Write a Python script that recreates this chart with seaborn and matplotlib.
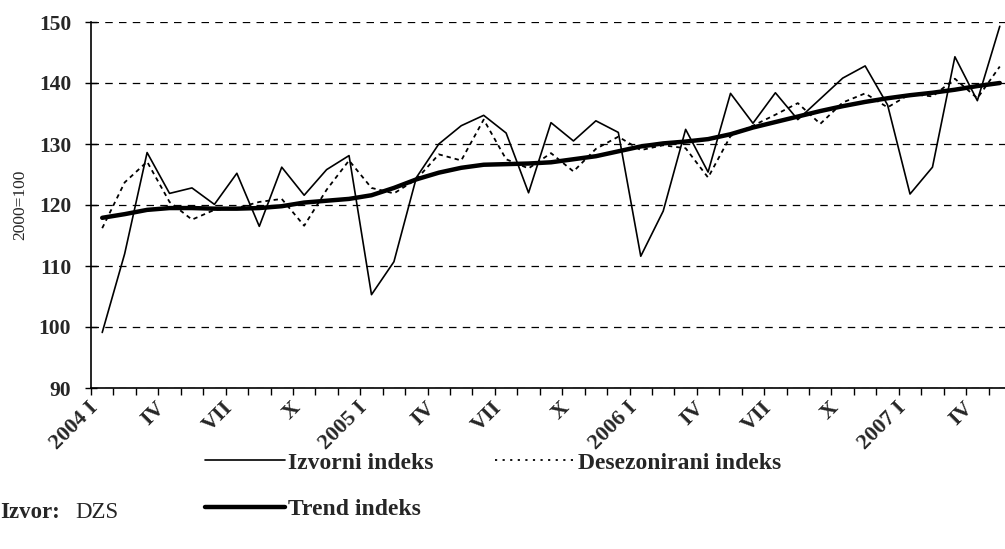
import numpy as np
import pandas as pd
import matplotlib
matplotlib.use("Agg")
import matplotlib.pyplot as plt
import matplotlib.transforms as mtransforms
from matplotlib.lines import Line2D
import seaborn as sns

# ---- data ----
years = [2004, 2005, 2006, 2007]
roman = ["I", "II", "III", "IV", "V", "VI", "VII", "VIII", "IX", "X", "XI", "XII"]
periods = [f"{y} {r}" if r == "I" else r for y in years for r in roman][:41]

izvorni = [99.1, 112.0, 128.6, 121.9, 122.8, 120.1, 125.2, 116.5, 126.2, 121.6,
           125.8, 128.1, 105.3, 110.7, 124.5, 130.0, 133.0, 134.7, 131.8, 122.0,
           133.5, 130.5, 133.8, 131.9, 111.6, 119.0, 132.4, 125.4, 138.3, 133.4,
           138.4, 134.0, 137.4, 140.8, 142.8, 136.4, 121.8, 126.2, 144.3, 137.1,
           149.3]
desezonirani = [116.2, 123.7, 127.1, 120.5, 117.6, 119.2, 119.5, 120.5, 121.0, 116.6,
                122.5, 127.3, 122.8, 121.9, 124.2, 128.3, 127.3, 134.0, 127.5, 126.0,
                128.5, 125.5, 129.2, 131.2, 129.0, 129.8, 129.3, 124.5, 131.3, 133.0,
                134.8, 136.7, 133.3, 136.8, 138.3, 136.0, 138.2, 137.8, 140.7, 137.5,
                142.7]
trend = [117.9, 118.5, 119.2, 119.5, 119.5, 119.4, 119.4, 119.5, 119.8, 120.4,
         120.7, 121.0, 121.6, 122.8, 124.2, 125.3, 126.1, 126.6, 126.7, 126.8,
         127.0, 127.5, 128.0, 128.8, 129.6, 130.1, 130.4, 130.8, 131.6, 132.7,
         133.6, 134.5, 135.4, 136.2, 136.9, 137.5, 138.0, 138.4, 138.9, 139.5,
         140.0]
yticks = [90, 100, 110, 120, 130, 140, 150]
series_names = ["Izvorni indeks", "Desezonirani indeks", "Trend indeks"]

df = pd.DataFrame({"pos": np.arange(len(periods)), "period": periods,
                   series_names[0]: izvorni, series_names[1]: desezonirani,
                   series_names[2]: trend})

# ---- style ----
sns.set_style("white")
plt.rcParams["font.family"] = ["Liberation Serif", "DejaVu Serif"]

fig = plt.figure(figsize=(10.05, 5.49), dpi=100)
W, H = 1005, 549
ax = fig.add_axes([91 / W, 1 - 388 / H, 920 / W, 366 / H])

sns.lineplot(data=df, x="pos", y=series_names[0], ax=ax, color="black",
             linewidth=1.2, label=series_names[0])
sns.lineplot(data=df, x="pos", y=series_names[1], ax=ax, color="black",
             linewidth=1.3, linestyle=(0, (2.4, 2.2)), label=series_names[1])
sns.lineplot(data=df, x="pos", y=series_names[2], ax=ax, color="black",
             linewidth=3.2, label=series_names[2])
ax.get_legend().remove()

ax.set_xlim(-0.5, len(periods) - 0.5)
ax.set_ylim(90, 150)
ax.set_xlabel("")
ax.set_ylabel("")

for s in ["top", "right"]:
    ax.spines[s].set_visible(False)
for s in ["left", "bottom"]:
    ax.spines[s].set_color("black")
    ax.spines[s].set_linewidth(1.2)

# grid
ax.set_yticks(yticks)
ax.yaxis.grid(True, color="black", linestyle=(0, (6, 5)), linewidth=0.9)
ax.xaxis.grid(False)
ax.set_axisbelow(True)
ax.tick_params(axis="y", direction="inout", length=8.5, width=1, color="black",
               pad=10, left=True)
for lab in ax.get_yticklabels():
    lab.set_fontweight("bold")
    lab.set_fontsize(15.5)

# x ticks: labels at centres of every 3rd period, tick marks at boundaries
label_pos = list(range(0, len(periods), 3))
ax.set_xticks(label_pos)
ax.set_xticklabels([periods[i] for i in label_pos], rotation=45, ha="right",
                   va="center", rotation_mode="anchor", fontweight="bold",
                   fontsize=16)
ax.tick_params(axis="x", which="major", length=0, pad=12.5, bottom=True)
ax.set_xticks(np.arange(-0.5, len(periods), 1.0), minor=True)
ax.tick_params(axis="x", which="minor", direction="out", length=5, width=1,
               color="black", bottom=True)
offset = mtransforms.ScaledTranslation(-7 / 100, 0, fig.dpi_scale_trans)
for lab in ax.get_xticklabels():
    lab.set_transform(lab.get_transform() + offset)

# y axis title
fig.text(20 / W, 1 - 205 / H, "2000=100", rotation=90, ha="center", va="center",
         fontsize=12.5)

# legend
handles = [Line2D([], [], color="black", linewidth=1.2),
           Line2D([], [], color="black", linewidth=3.2),
           Line2D([], [], color="black", linewidth=1.3, linestyle=(0, (1.2, 3.0)))]
labels = [series_names[0], series_names[2], series_names[1]]
fig.legend(handles, labels, loc="upper left", bbox_to_anchor=(205 / W, 1 - 452 / H),
           ncol=2, frameon=False, borderpad=0, borderaxespad=0,
           handlelength=3.4, handletextpad=0.12, columnspacing=2.6,
           labelspacing=1.05, prop={"family": "Liberation Serif", "weight": "bold",
                                    "size": 17})

fig.text(0 / W, 1 - 512 / H, "Izvor:", ha="left", va="center", fontsize=16.5,
         fontweight="bold")
fig.text(75 / W, 1 - 512 / H, "DZS", ha="left", va="center", fontsize=16.5)

fig.savefig("out.png", dpi=100)
